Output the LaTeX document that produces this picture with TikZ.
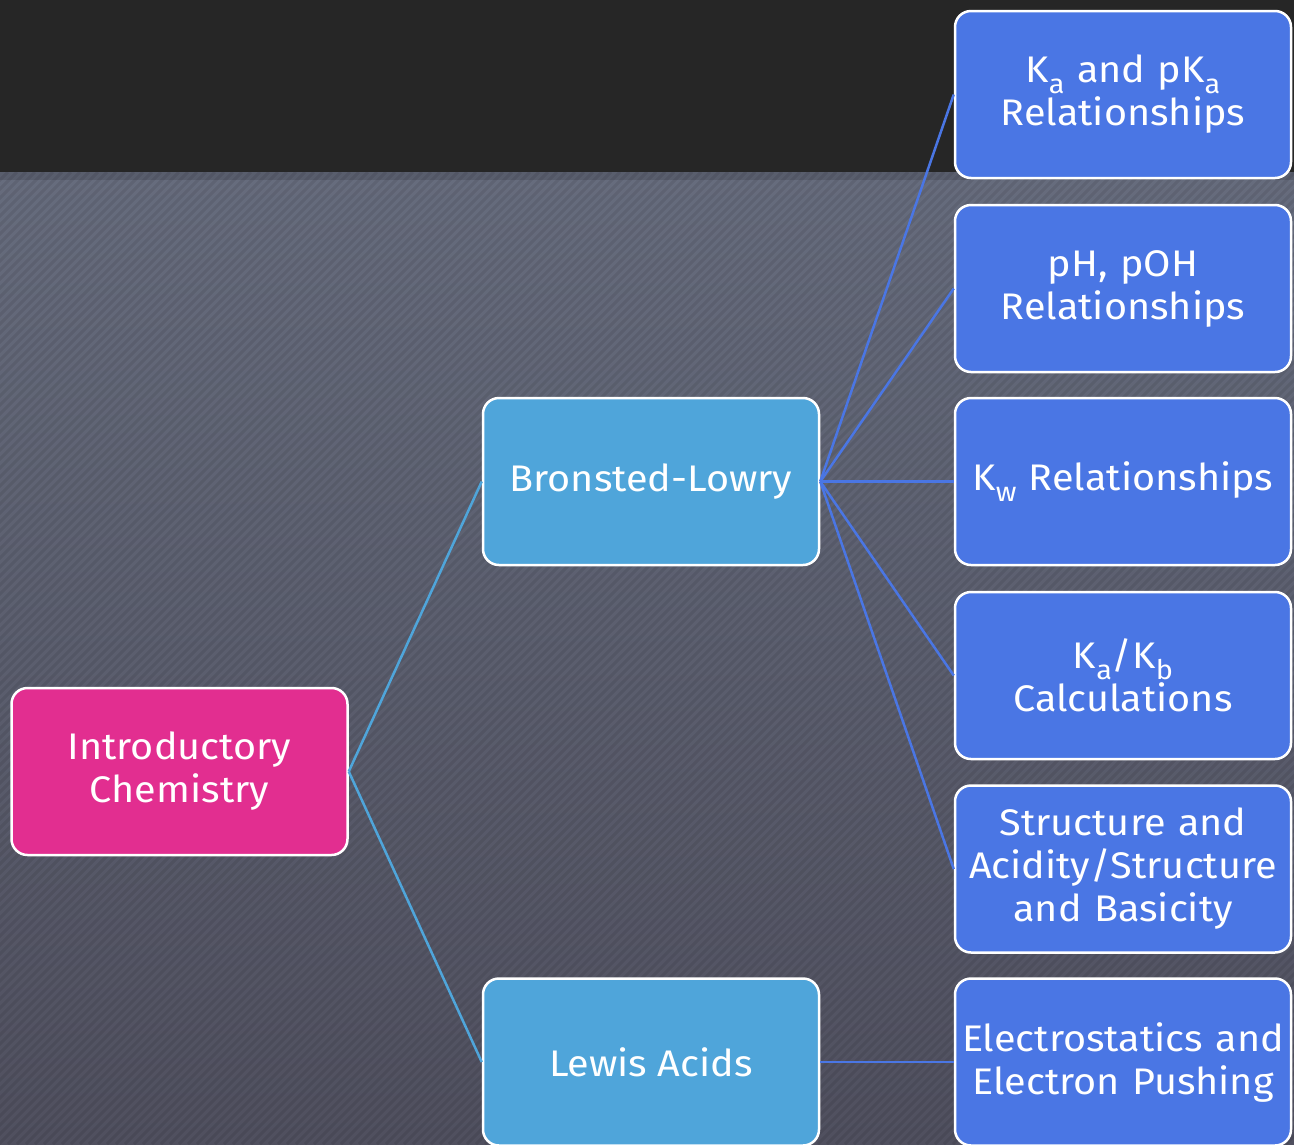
\documentclass[tikz,border=0pt]{standalone}
\usepackage{fontspec}
\setmainfont{Fira Sans}[FakeStretch=1.07]
\definecolor{band}{HTML}{262626}
\definecolor{bgtop}{HTML}{666C7D}
\definecolor{bgbot}{HTML}{50505F}
\definecolor{rbox}{HTML}{4A76E4}
\definecolor{mbox}{HTML}{4FA5DA}
\definecolor{pbox}{HTML}{E22E90}
\tikzset{
  cbox/.style={draw=white, line width=2.5pt, rounded corners=16pt, text=white,
    minimum width=336pt, minimum height=167pt, inner sep=2pt, align=center,
    font=\fontsize{37}{43}\selectfont},
  rightbox/.style={cbox, fill=rbox, text width=330pt},
  midbox/.style={cbox, fill=mbox},
  rootbox/.style={cbox, fill=pbox},
  bline/.style={draw=rbox, line width=2.5pt},
  lline/.style={draw=mbox, line width=2.5pt}
}
\newcommand{\lowsub}[1]{\raisebox{-0.28em}{\fontsize{27}{27}\selectfont #1}}
\begin{document}
\begin{tikzpicture}[x=1pt,y=-1pt]
\useasboundingbox (0,0) rectangle (1294,1144);
% background
\shade[top color=bgtop, bottom color=bgbot] (0,172) rectangle (1294,1144);
\begin{scope}
\clip (0,172) rectangle (1294,1144);
\foreach \i in {0,...,280}{
  \draw[black, opacity=0.08, line width=3pt] (\i*9-1000,1144) -- (\i*9-1000+972,172);
}
\fill[black, opacity=0.12] (0,172) rectangle (1294,180);
\end{scope}
\fill[band] (0,0) rectangle (1294,172);

% nodes
\node[rootbox] (intro) at (179.5,771.5) {Introductory\\Chemistry};
\node[midbox] (bl) at (651,481.5) {Bronsted-Lowry};
\node[midbox] (lewis) at (651,1062) {Lewis Acids};
\node[rightbox] (ka) at (1123,94.5) {K\lowsub{a} and pK\lowsub{a}\\Relationships};
\node[rightbox] (ph) at (1123,288.5) {pH, pOH\\Relationships};
\node[rightbox] (kw) at (1123,481.5) {K\lowsub{w} Relationships};
\node[rightbox] (kakb) at (1123,675.5) {K\lowsub{a}/K\lowsub{b}\\Calculations};
\node[rightbox] (struct) at (1123,869) {Structure and\\Acidity/Structure\\and Basicity};
\node[rightbox] (elec) at (1123,1062) {Electrostatics and\\Electron Pushing};

% connectors
\draw[lline] (intro.east) -- (bl.west);
\draw[lline] (intro.east) -- (lewis.west);
\foreach \t in {ka,ph,kw,kakb,struct}{
  \draw[bline] (bl.east) -- (\t.west);
}
\draw[bline] (lewis.east) -- (elec.west);
\end{tikzpicture}
\end{document}
